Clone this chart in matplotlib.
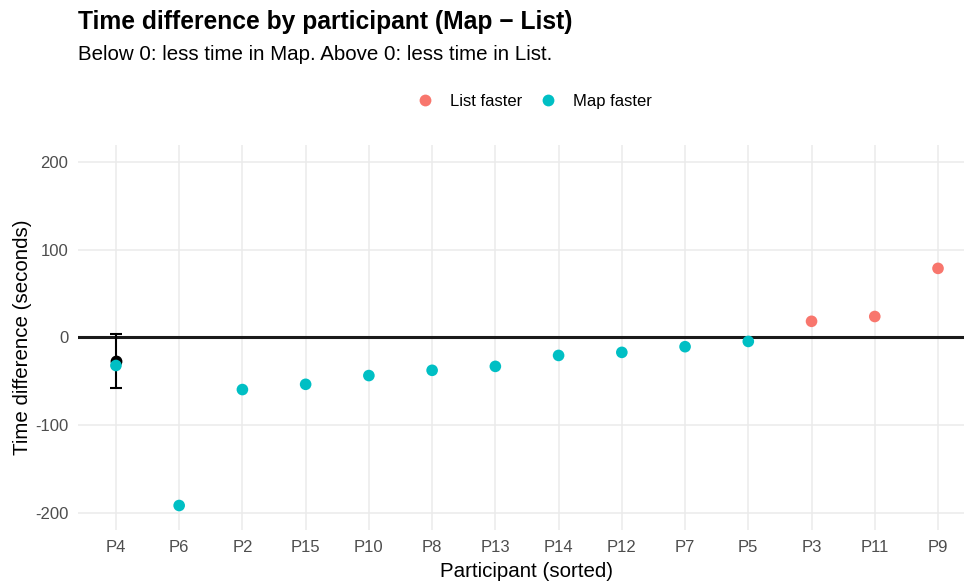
import matplotlib.pyplot as plt
from matplotlib.lines import Line2D

plt.rcParams['font.family'] = ['Liberation Sans', 'DejaVu Sans']
plt.rcParams['axes.unicode_minus'] = False

participants = ['P4', 'P6', 'P2', 'P15', 'P10', 'P8', 'P13', 'P14', 'P12', 'P7', 'P5', 'P3', 'P11', 'P9']
diff = [-32, -192, -59.5, -53.5, -43.5, -37.5, -33, -20.5, -17, -10.5, -4.5, 18.5, 24, 79]
faster = ['Map faster'] * 11 + ['List faster'] * 3

mean_diff = -27.3
ci_low = -58
ci_high = 4

colors = {'List faster': '#F8766D', 'Map faster': '#00BFC4'}

fig = plt.figure(figsize=(9.64, 5.83), dpi=100)
# panel runs a little past the right edge, like the reference
ax = fig.add_axes([0.0809, 0.0909, 0.9315, 0.6604])

x = list(range(1, len(participants) + 1))

ax.axhline(0, color='#1a1a1a', linewidth=2.2, zorder=2)

# mean with interval, drawn at first position
ax.errorbar([1], [mean_diff], yerr=[[mean_diff - ci_low], [ci_high - mean_diff]],
            fmt='o', color='black', markersize=7.5, elinewidth=1.5, capsize=4,
            capthick=1.5, zorder=3)

ax.scatter(x, diff, c=[colors[f] for f in faster], s=70, linewidths=0, zorder=4)

ax.set_xlim(0.4, 14.6)
ax.set_ylim(-220, 220)
ax.set_xticks(x)
ax.set_xticklabels(participants)
ax.set_yticks([-200, -100, 0, 100, 200])

ax.grid(True, color='#EBEBEB', linewidth=1.1)
ax.set_axisbelow(True)
for s in ax.spines.values():
    s.set_visible(False)
ax.tick_params(length=0, labelsize=12, labelcolor='#4D4D4D')
ax.tick_params(axis='x', pad=7)
ax.tick_params(axis='y', pad=7)

ax.set_xlabel('Participant (sorted)', fontsize=14.8, labelpad=5.5)
ax.set_ylabel('Time difference (seconds)', fontsize=14.8, labelpad=2)

fig.text(0.0809, 0.962, 'Time difference by participant (Map \u2212 List)',
         fontsize=17.7, fontweight='bold', va='center', ha='left')
fig.text(0.0809, 0.906, 'Below 0: less time in Map. Above 0: less time in List.',
         fontsize=14.8, va='center', ha='left')

handles = [Line2D([], [], marker='o', linestyle='', markersize=8.5, markeredgewidth=0,
                  color=colors[k]) for k in ['List faster', 'Map faster']]
fig.legend(handles, ['List faster', 'Map faster'], loc='center',
           bbox_to_anchor=(0.5545, 0.8255), ncol=2, frameon=False, fontsize=12,
           handletextpad=1.0, columnspacing=1.06, handlelength=1.0,
           borderpad=0, borderaxespad=0)

fig.savefig('out.png', dpi=100)
